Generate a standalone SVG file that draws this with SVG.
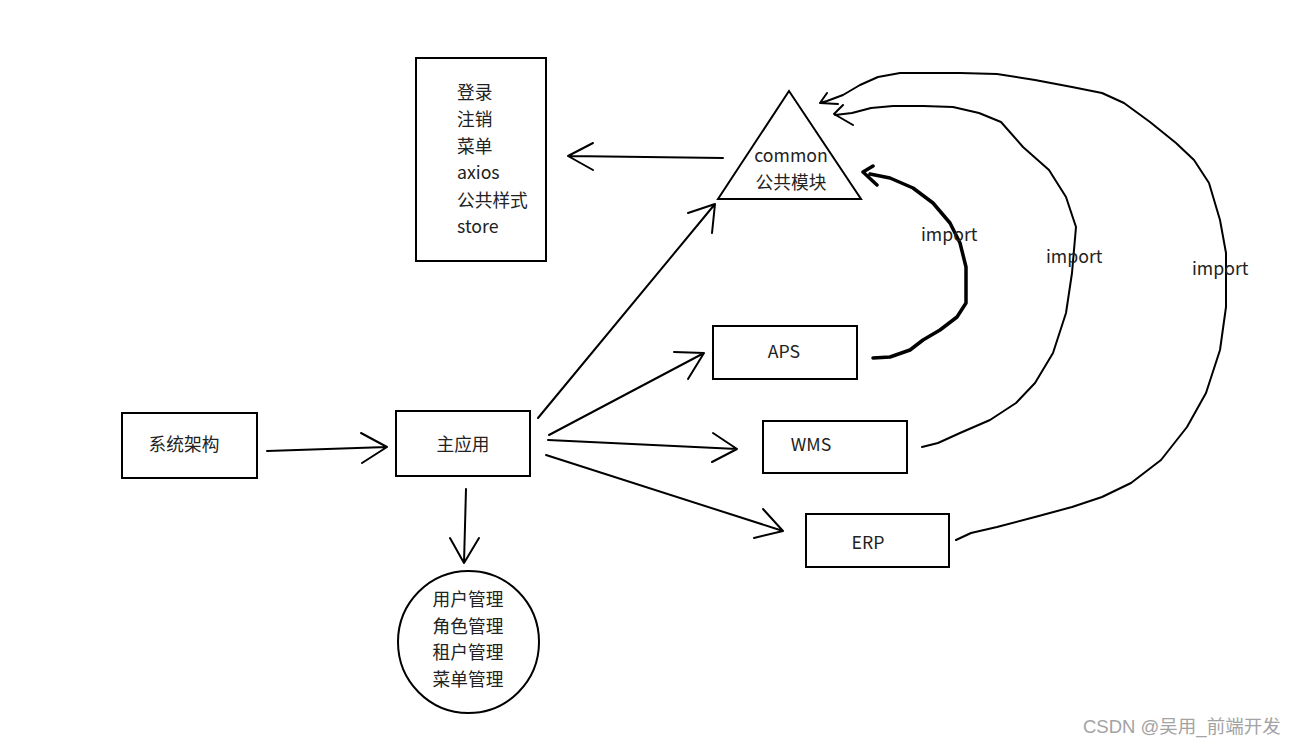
<svg xmlns="http://www.w3.org/2000/svg" width="1300" height="745" viewBox="0 0 1300 745">
<style>
.box{fill:#fff;stroke:#000;stroke-width:2}
.ln{fill:none;stroke:#000;stroke-width:2;stroke-linecap:round;stroke-linejoin:round}
.thick{fill:none;stroke:#000;stroke-width:3.5;stroke-linecap:round;stroke-linejoin:round}
.t{font-family:"Noto Sans CJK SC","Noto Sans",sans-serif;font-size:17.7px;fill:#222;dominant-baseline:central}
.c{text-anchor:middle}
.wm{font-family:"Liberation Sans","Noto Sans CJK SC",sans-serif;font-size:18.5px;fill:#a3a3a3;dominant-baseline:central}
</style>
<rect width="1300" height="745" fill="#fff"/>
<g id="common-list">
<rect class="box" x="416" y="58" width="130" height="203"/>
<text class="t" x="457" y="91">登录</text>
<text class="t" x="457" y="118">注销</text>
<text class="t" x="457" y="145">菜单</text>
<text class="t" x="457" y="171">axios</text>
<text class="t" x="457" y="199">公共样式</text>
<text class="t" x="457" y="225">store</text>
</g>
<g id="common">
<polygon class="box" points="789,91 718,199 861,199"/>
<text class="t c" x="791" y="154">common</text>
<text class="t c" x="791" y="181">公共模块</text>
</g>
<g id="system">
<rect class="box" x="122" y="413" width="135" height="65"/>
<text class="t c" x="184" y="443">系统架构</text>
</g>
<g id="main">
<rect class="box" x="396" y="411" width="134" height="65"/>
<text class="t c" x="463" y="443">主应用</text>
</g>
<g id="modules">
<ellipse class="box" cx="468.5" cy="642" rx="70.5" ry="71"/>
<text class="t c" x="468" y="598">用户管理</text>
<text class="t c" x="468" y="625">角色管理</text>
<text class="t c" x="468" y="651">租户管理</text>
<text class="t c" x="468" y="678">菜单管理</text>
</g>
<g id="aps">
<rect class="box" x="713" y="326" width="144" height="53"/>
<text class="t c" x="784" y="350">APS</text>
</g>
<g id="wms">
<rect class="box" x="763" y="421" width="144" height="52"/>
<text class="t c" x="811" y="443">WMS</text>
</g>
<g id="erp">
<rect class="box" x="806" y="514" width="143" height="53"/>
<text class="t c" x="868" y="541">ERP</text>
</g>
<g id="connectors">
<path class="ln" d="M723,158 L568,156 M593,143 L568,156 L593,170"/>
<path class="ln" d="M267,451 L387,447 M361,433 L387,447 L362,463"/>
<path class="ln" d="M466,489 L464,563 M450,538 L464,563 L479,538"/>
<path class="ln" d="M538,418 L715,204 M688,213 L715,204 L712,233"/>
<path class="ln" d="M549,435 L704,353 M674,352 L704,353 L688,379"/>
<path class="ln" d="M548,440 L737,449 M713,433 L737,449 L712,462"/>
<path class="ln" d="M546,455 L783,531 M763,509 L783,531 L754,538"/>
<path class="thick" d="M873,358 L890,357 L910,350 L923,340 L940,330 L957,317 L966,303 L966,267 L960,243 L950,223 L933,203 L913,188 L890,178 L870,174 M873,166 L863,172 L877,185"/>
<path class="ln" d="M922,447 L938,443 L960,433 L990,420 L1016,403 L1035,383 L1053,353 L1066,313 L1072,273 L1076,227 L1066,197 L1049,170 L1023,147 L1001,122 L979,113 L953,107 L923,106 L893,106 L871,108 L852,113 L835,115 M843,105 L834,114 L853,125"/>
<path class="ln" d="M956,540 L971,533 L997,527 L1035,517 L1072,507 L1102,497 L1131,483 L1161,460 L1187,427 L1206,393 L1220,350 L1226,307 L1226,253 L1220,220 L1209,183 L1194,160 L1176,143 L1150,122 L1124,103 L1102,93 L1072,87 L1035,80 L997,74 L960,73 L920,73 L900,73 L878,77 L860,85 L843,95 L827,101 L820,103 M827,93 L820,103 L838,104"/>
<text class="t" x="921" y="233">import</text>
<text class="t" x="1046" y="255">import</text>
<text class="t" x="1192" y="267">import</text>
</g>
<text class="wm" x="1083" y="726">CSDN @吴用_前端开发</text>
</svg>
